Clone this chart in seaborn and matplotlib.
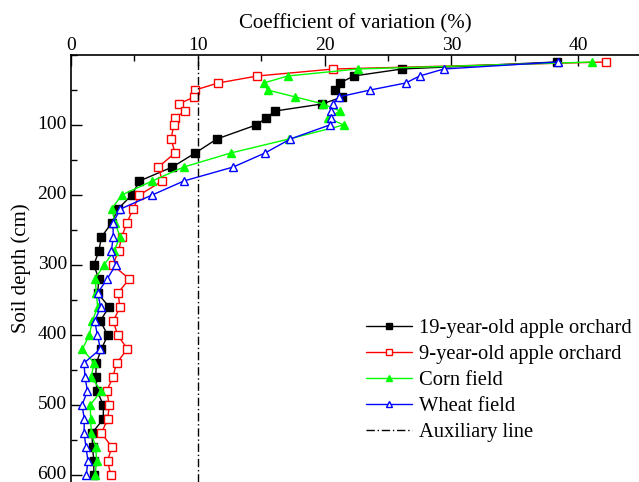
import numpy as np
import pandas as pd
import matplotlib
matplotlib.use("Agg")
import matplotlib.pyplot as plt
from matplotlib.ticker import MultipleLocator
from matplotlib.transforms import ScaledTranslation
import seaborn as sns

depth = [10, 20, 30, 40, 50, 60, 70, 80, 90, 100,
         120, 140, 160, 180, 200, 220, 240, 260, 280, 300,
         320, 340, 360, 380, 400, 420, 440, 460, 480, 500,
         520, 540, 560, 580, 600]

orchard19 = [38.3, 26.1, 22.3, 21.2, 20.8, 21.4, 19.8, 16.1, 15.4, 14.6,
             11.5, 9.8, 8.0, 5.4, 4.8, 3.7, 3.2, 2.4, 2.2, 1.8,
             2.2, 2.1, 3.0, 2.3, 2.9, 2.4, 2.0, 1.95, 2.05, 2.55,
             2.55, 1.66, 1.7, 1.8, 1.8]
orchard9 = [42.2, 20.7, 14.7, 11.6, 9.8, 9.7, 8.5, 9.0, 8.2, 8.1,
            7.9, 8.2, 6.9, 7.2, 5.4, 4.9, 4.4, 4.0, 3.75, 3.3,
            4.6, 3.7, 3.87, 3.34, 3.67, 4.45, 3.6, 3.3, 2.82, 3.02,
            2.9, 2.4, 3.22, 2.88, 3.14]
corn = [41.1, 22.6, 17.1, 15.2, 15.5, 17.7, 19.9, 21.2, 20.3, 21.5,
        17.2, 12.6, 8.9, 6.4, 4.0, 3.2, 3.5, 3.86, 3.4, 2.6,
        1.9, 2.0, 2.1, 1.68, 1.45, 0.9, 1.81, 1.6, 2.37, 1.52,
        1.55, 1.6, 1.95, 2.02, 1.9]
wheat = [38.4, 29.4, 27.5, 26.4, 23.6, 21.1, 20.7, 20.5, 20.5, 20.4,
         17.3, 15.3, 12.8, 8.9, 6.4, 3.9, 3.3, 3.34, 3.18, 3.53,
         2.85, 2.1, 2.34, 1.87, 2.08, 2.32, 1.03, 1.1, 1.3, 0.87,
         1.05, 1.03, 1.18, 1.34, 1.2]

labels = ["19-year-old apple orchard", "9-year-old apple orchard",
          "Corn field", "Wheat field"]
aux_label = "Auxiliary line"
aux_x = 10

sns.set_style("ticks")
plt.rcParams['font.family'] = ['Liberation Serif', 'DejaVu Serif']
plt.rcParams['text.color'] = 'black'
plt.rcParams['axes.labelcolor'] = 'black'
plt.rcParams['xtick.color'] = 'black'
plt.rcParams['ytick.color'] = 'black'
plt.rcParams['axes.edgecolor'] = 'black'

fig = plt.figure(figsize=(6.39, 4.82), dpi=100)
ax = fig.add_axes([71/639, 0.0, 568/639, 427/482])

series = [orchard19, orchard9, corn, wheat]
colors = ["#000000", "#ff0000", "#00ff00", "#0000ff"]
markers = ["s", "s", "^", "^"]
filled = [True, False, True, False]

for vals, lab, col, mk, fl in zip(series, labels, colors, markers, filled):
    df = pd.DataFrame({"cv": vals, "depth": depth})
    sns.lineplot(data=df, x="cv", y="depth", sort=False, estimator=None,
                 color=col, marker=mk, markersize=5.5 if mk == "s" else 6,
                 markerfacecolor=col if fl else "white",
                 markeredgecolor=col, markeredgewidth=1.0,
                 linewidth=1.0, label=lab, ax=ax)

ax.axvline(aux_x, color="black", lw=1.0, linestyle=(0, (6, 2, 1, 2)),
           label=aux_label)

ax.set_xlim(0, 44.8)
ax.set_ylim(610, 0)
ax.xaxis.tick_top()
ax.xaxis.set_label_position("top")
ax.set_xlabel("Coefficient of variation (%)", fontsize=15, labelpad=6)
ax.set_ylabel("Soil depth (cm)", fontsize=15, labelpad=5)
ax.xaxis.set_major_locator(MultipleLocator(10))
ax.xaxis.set_minor_locator(MultipleLocator(5))
ax.set_yticks([100, 200, 300, 400, 500, 600])
ax.yaxis.set_minor_locator(MultipleLocator(50))
ax.tick_params(axis="both", which="major", direction="in", length=8,
               width=1, labelsize=14, top=True, bottom=False,
               left=True, right=False)
ax.tick_params(axis="both", which="minor", direction="in", length=4,
               width=1, top=True, bottom=False, left=True, right=False)
ax.tick_params(axis="x", pad=1)
ax.tick_params(axis="y", pad=3)
for s in ["right", "bottom"]:
    ax.spines[s].set_visible(False)
for s in ["left", "top"]:
    ax.spines[s].set_linewidth(1.2)
    ax.spines[s].set_color("black")

shift = ScaledTranslation(0, 2.5/100, fig.dpi_scale_trans)
for lbl in ax.get_yticklabels():
    lbl.set_transform(lbl.get_transform() + shift)

leg = ax.legend(loc="upper left", bbox_to_anchor=(352/639, 1 - 304/482),
                bbox_transform=fig.transFigure, frameon=False,
                fontsize=14.8, handlelength=2.2, handletextpad=0.35,
                labelspacing=0.33, markerscale=0.75, borderpad=0.2)

fig.savefig("out.png", dpi=100)
